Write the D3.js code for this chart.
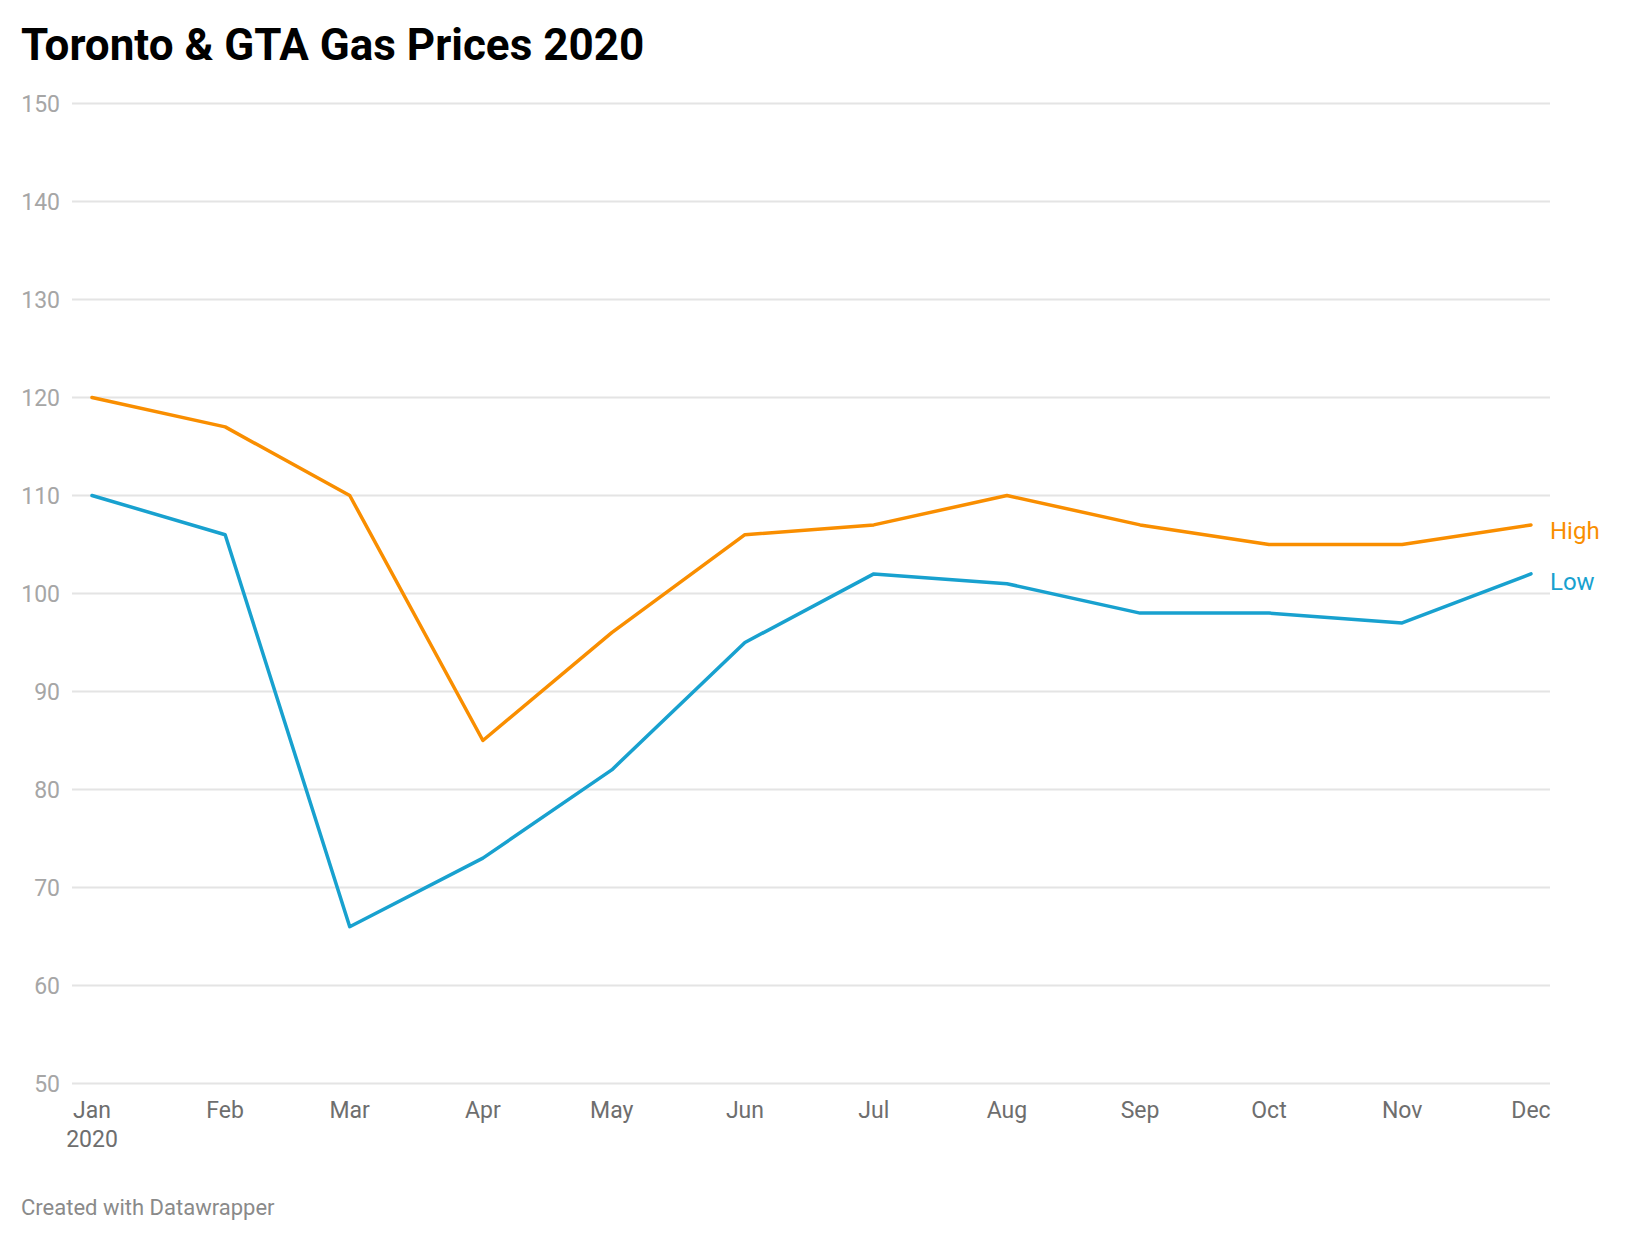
<!DOCTYPE html>
<html><head><meta charset="utf-8">
<script src="https://cdn.jsdelivr.net/npm/d3@7"></script>
<style>
body{margin:0;background:#fff;}
svg{display:block;font-family:Roboto, sans-serif;}
</style></head>
<body><svg id="c" width="1640" height="1240"></svg>
<script>
const months = ["2020-01-01","2020-02-01","2020-03-01","2020-04-01","2020-05-01","2020-06-01","2020-07-01","2020-08-01","2020-09-01","2020-10-01","2020-11-01","2020-12-01"];
const monthLabels = ["Jan","Feb","Mar","Apr","May","Jun","Jul","Aug","Sep","Oct","Nov","Dec"];
const high = [120,117,110,85,96,106,107,110,107,105,105,107];
const low  = [110,106,66,73,82,95,102,101,98,98,97,102];
const yTicks = [50,60,70,80,90,100,110,120,130,140,150];
const seriesNames = ["High","Low"];
const seriesColors = ["#f98e00","#18a1cf"];

const parse = d3.timeParse("%Y-%m-%d");
const dates = months.map(parse);
const svg = d3.select("#c");

const x = d3.scaleTime().domain([dates[0], dates[dates.length-1]]).range([92, 1531]);
const y = d3.scaleLinear().domain([50,150]).range([1083.5, 103.5]);

svg.append("text").attr("x",21).attr("y",60)
  .attr("font-size",44).attr("font-weight",700).attr("fill","#000")
  .text("Toronto & GTA Gas Prices 2020");

// gridlines
const gy = svg.append("g");
gy.selectAll("line").data(yTicks).join("line")
  .attr("x1",72).attr("x2",1550)
  .attr("y1",d=>y(d)).attr("y2",d=>y(d))
  .attr("stroke","#e4e4e4").attr("stroke-width",2);
gy.selectAll("text").data(yTicks).join("text")
  .attr("x",60).attr("y",d=>y(d)).attr("dy","0.36em")
  .attr("text-anchor","end").attr("font-size",23).attr("fill","#a6a6a6")
  .text(d=>d);

// x labels
const gx = svg.append("g");
gx.selectAll("text").data(dates).join("text")
  .attr("x",d=>x(d)).attr("y",1118)
  .attr("text-anchor","middle").attr("font-size",23).attr("fill","#6e6e6e")
  .text((d,i)=>monthLabels[i]);
gx.append("text").attr("x",x(dates[0])).attr("y",1147)
  .attr("text-anchor","middle").attr("font-size",23).attr("fill","#6e6e6e").text("2020");

// lines
const line = d3.line().x((d,i)=>x(dates[i])).y(d=>y(d));
[high, low].forEach((s,k)=>{
  svg.append("path").datum(s).attr("d",line)
    .attr("fill","none").attr("stroke",seriesColors[k]).attr("stroke-width",3.5)
    .attr("stroke-linejoin","round").attr("stroke-linecap","round");
  svg.append("text").attr("x",1550).attr("y",y(s[s.length-1]) + (k===0?5:7)).attr("dy","0.36em")
    .attr("font-size",24).attr("fill",seriesColors[k]).text(seriesNames[k]);
});

svg.append("text").attr("x",21).attr("y",1215)
  .attr("font-size",22).attr("fill","#8a8a8a").text("Created with Datawrapper");
</script></body></html>
